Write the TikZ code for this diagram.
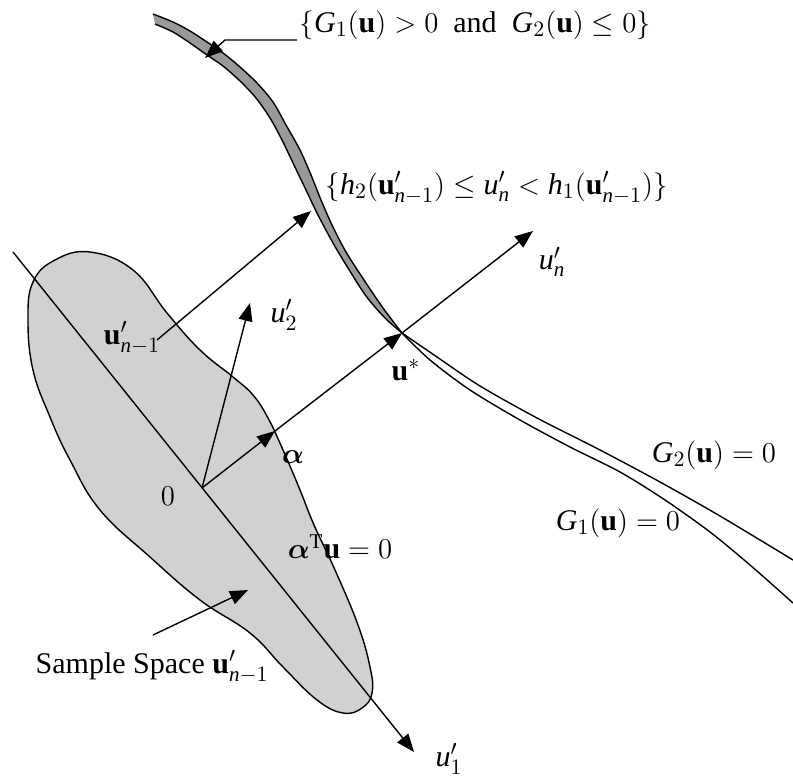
\documentclass[tikz,border=0pt]{standalone}
\usepackage{amsmath,amssymb}
\usepackage{fontspec}
\setmainfont{Liberation Serif}
\usetikzlibrary{arrows.meta}
\newcommand{\itl}[1]{\mathit{#1}}
\newcommand{\ubf}{\mathbf{u}}
\begin{document}
\begin{tikzpicture}[x=0.5pt,y=-0.5pt,
  font=\fontsize{15}{18}\selectfont,
  line width=0.7pt,
  tipar/.style={-{Triangle[length=9pt,width=7pt]}},
  lbl/.style={inner sep=1pt}]
\useasboundingbox (0,0) rectangle (793,781);

% key points
\coordinate (O) at (202,488);
\coordinate (A1) at (13,252);
\coordinate (U1) at (414,752);
\coordinate (Al) at (275,431);
\coordinate (Us) at (402,333);
\coordinate (Un) at (533,231);
\coordinate (U2) at (250,303);
\coordinate (Ns) at (157,340);
\coordinate (Ne) at (311,211);
\coordinate (Ss) at (153,635);
\coordinate (Se) at (248,590);
\coordinate (K1) at (225,40);
\coordinate (K2) at (205,58);

% sample space blob
\draw[fill=black!18] plot[smooth cycle, tension=0.7] coordinates {
 (90,252) (133,270) (167,313) (200,350) (233,377) (253,395) (268,418)
 (283,450) (300,490) (314,525) (335,570) (358,625) (370,667) (372,693)
 (362,708) (343,713) (317,700) (283,667) (250,633) (200,600) (150,557)
 (100,510) (70,460) (50,417) (33,370) (28,320) (33,282) (55,260)};

% shaded band {G1>0 and G2<=0}
\fill[black!40] plot[smooth] coordinates {
 (153,14) (173,22) (190,31) (207,42) (223,53) (240,67) (257,83) (273,102)
 (286,125) (300,150) (311,175) (321,200) (332,225) (346,252) (364,280)
 (383,308) (402,333)}
 -- plot[smooth] coordinates {
 (402,333) (385,318) (366,296) (348,268) (333,243) (318,215) (306,190)
 (294,165) (282,140) (270,118) (256,98) (240,81) (223,66) (207,55)
 (190,43) (173,32) (155,24)} -- cycle;
\draw plot[smooth] coordinates {
 (153,14) (173,22) (190,31) (207,42) (223,53) (240,67) (257,83) (273,102)
 (286,125) (300,150) (311,175) (321,200) (332,225) (346,252) (364,280)
 (383,308) (402,333)};
\draw plot[smooth] coordinates {
 (402,333) (385,318) (366,296) (348,268) (333,243) (318,215) (306,190)
 (294,165) (282,140) (270,118) (256,98) (240,81) (223,66) (207,55)
 (190,43) (173,32) (155,24)};

% limit-state curves
\draw plot[smooth] coordinates {(402,333) (437,357) (480,386) (537,418)
 (600,450) (660,482) (720,516) (793,560)};
\draw plot[smooth] coordinates {(402,333) (430,360) (470,390) (520,420)
 (570,447) (620,472) (665,500) (710,532) (750,565) (793,603)};

% axes and arrows
\draw[tipar] (A1) -- (U1);
\draw[tipar] (O) -- (U2);
\draw[tipar] (O) -- (Al);
\draw[tipar] (Al) -- (Us);
\draw[tipar] (Us) -- (Un);
\draw[tipar] (Ns) -- (Ne);
\draw[tipar] (Ss) -- (Se);

% labels
\node[lbl,anchor=west] (top) at (297,25)
 {$\{\itl{G}_1(\ubf)>0\ \text{ and }\ \itl{G}_2(\ubf)\leq 0\}$};
\draw[tipar] (top.west |- K1) -- (K1) -- (K2);
\node[lbl,anchor=west] (hlab) at (323,188)
 {$\{\itl{h}_2(\ubf'_{\itl{n}-1})\leq \itl{u}'_{\itl{n}}<\itl{h}_1(\ubf'_{\itl{n}-1})\}$};
\node[lbl] (lun) at (552,262) {$\itl{u}'_{\itl{n}}$};
\node[lbl] (lu2) at (284,315) {$\itl{u}'_2$};
\node[lbl] (lal) at (293,457) {$\boldsymbol{\alpha}$};
\node[lbl] (l0) at (168,496) {$0$};
\node[lbl] (lus) at (406,370) {$\ubf^{*}$};
\node[lbl] (lat) at (340,547) {$\boldsymbol{\alpha}^{\mathrm{T}}\ubf=0$};
\node[lbl] (lu1) at (449,759) {$\itl{u}'_1$};
\node[lbl] (lg2) at (714,455) {$\itl{G}_2(\ubf)=0$};
\node[lbl] (lg1) at (618,523) {$\itl{G}_1(\ubf)=0$};
\node[lbl] (lnm1) at (132,338) {$\ubf'_{\itl{n}-1}$};
\node[lbl,anchor=west] (lss) at (33,667) {Sample Space $\ubf'_{\itl{n}-1}$};
\end{tikzpicture}
\end{document}
